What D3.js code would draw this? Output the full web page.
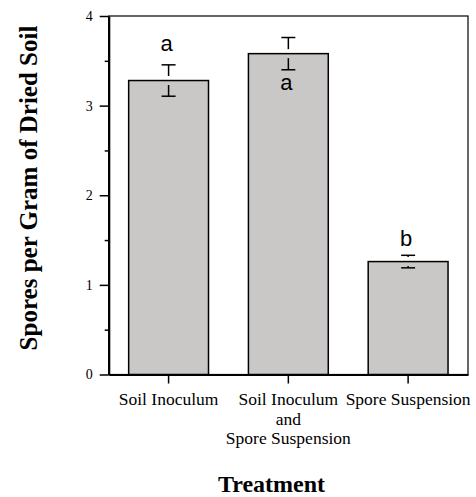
<!DOCTYPE html>
<html>
<head>
<meta charset="utf-8">
<script src="https://cdn.jsdelivr.net/npm/d3@7"></script>
<style>
  body { margin: 0; background: #fff; }
  svg { display: block; }
</style>
</head>
<body>
<div id="chart"></div>
<script>
// Data
const treatments = ["Soil Inoculum", "Soil Inoculum and Spore Suspension", "Spore Suspension"];
const tickLines = [["Soil Inoculum"], ["Soil Inoculum", "and", "Spore Suspension"], ["Spore Suspension"]];
const means = [3.28, 3.58, 1.26];
const errors = [0.175, 0.18, 0.07];
const letters = ["a", "a", "b"];
const letterValues = [3.61, 3.17, 1.43];
const yTicks = [0, 1, 2, 3, 4];
const yMinorTicks = [0.5, 1.5, 2.5, 3.5];

(function() {
    const W = 476, H = 497;
    const margin = {top: 16, right: 8, bottom: 122.5, left: 108.7};
    const width = W - margin.left - margin.right;
    const height = H - margin.top - margin.bottom;

    const svg = d3.select("#chart")
        .append("svg")
        .attr("width", W)
        .attr("height", H);

    const g = svg.append("g")
        .attr("transform", `translate(${margin.left}, ${margin.top})`);

    const x = d3.scaleBand()
        .domain(treatments)
        .range([0, width])
        .paddingInner(1 / 3)
        .paddingOuter(1 / 6);

    const y = d3.scaleLinear()
        .domain([0, 4])
        .range([height, 0]);

    // thin frame (top and right)
    g.append("rect")
        .attr("width", width)
        .attr("height", height)
        .attr("fill", "none")
        .attr("stroke", "#000")
        .attr("stroke-width", 1.2);

    // bars
    g.selectAll(".bar")
        .data(treatments)
        .enter()
        .append("rect")
        .attr("class", "bar")
        .attr("x", d => x(d))
        .attr("y", (d, i) => y(means[i]))
        .attr("width", x.bandwidth())
        .attr("height", (d, i) => height - y(means[i]))
        .attr("fill", "#c9c8c7")
        .attr("stroke", "#000")
        .attr("stroke-width", 1.5);

    // error bars, drawn with a small gap around the mean
    const gap = 4.5, capW = 14;
    treatments.forEach((t, i) => {
        const cx = x(t) + x.bandwidth() / 2;
        const yHi = y(means[i] + errors[i]);
        const yLo = y(means[i] - errors[i]);
        const yM = y(means[i]);
        const eb = g.append("g").attr("stroke", "#000").attr("stroke-width", 1.5);
        if (yM - gap > yHi) {
            eb.append("line").attr("x1", cx).attr("x2", cx).attr("y1", yHi).attr("y2", yM - gap);
        }
        if (yM + gap < yLo) {
            eb.append("line").attr("x1", cx).attr("x2", cx).attr("y1", yM + gap).attr("y2", yLo);
        }
        eb.append("line").attr("x1", cx - capW / 2).attr("x2", cx + capW / 2).attr("y1", yHi).attr("y2", yHi);
        eb.append("line").attr("x1", cx - capW / 2).attr("x2", cx + capW / 2).attr("y1", yLo).attr("y2", yLo);
    });

    // significance letters
    g.selectAll(".letter")
        .data(treatments)
        .enter()
        .append("text")
        .attr("class", "letter")
        .attr("x", d => x(d) + x.bandwidth() / 2 - 2)
        .attr("y", (d, i) => y(letterValues[i]))
        .attr("text-anchor", "middle")
        .style("font-family", "Liberation Sans, Arial, sans-serif")
        .style("font-size", "22px")
        .text((d, i) => letters[i]);

    // y axis
    const yAxis = g.append("g")
        .call(d3.axisLeft(y).tickValues(yTicks).tickSize(9).tickSizeOuter(0).tickPadding(7).tickFormat(d3.format("d")));
    yAxis.select(".domain").attr("stroke-width", 2.2);
    yAxis.selectAll(".tick line").attr("stroke-width", 1.5);
    yAxis.selectAll(".tick text")
        .style("font-family", "Liberation Serif, Times New Roman, serif")
        .style("font-size", "14px")
        .attr("fill", "#000");

    const yMinor = g.append("g")
        .call(d3.axisLeft(y).tickValues(yMinorTicks).tickSize(4).tickFormat(""));
    yMinor.select(".domain").remove();
    yMinor.selectAll(".tick line").attr("stroke-width", 1.5);

    // x axis
    const xAxis = g.append("g")
        .attr("transform", `translate(0, ${height})`)
        .call(d3.axisBottom(x).tickSize(9).tickSizeOuter(0).tickFormat(""));
    xAxis.select(".domain").attr("stroke-width", 2.2);
    xAxis.selectAll(".tick line").attr("stroke-width", 1.5);

    const xLabels = g.append("g")
        .attr("transform", `translate(0, ${height})`);
    treatments.forEach((t, i) => {
        const txt = xLabels.append("text")
            .attr("x", x(t) + x.bandwidth() / 2)
            .attr("y", 30.5)
            .attr("text-anchor", "middle")
            .style("font-family", "Liberation Serif, Times New Roman, serif")
            .style("font-size", "17.5px");
        tickLines[i].forEach((line, j) => {
            txt.append("tspan")
                .attr("x", x(t) + x.bandwidth() / 2)
                .attr("dy", j === 0 ? 0 : 19.5)
                .text(line);
        });
    });

    // axis titles
    svg.append("text")
        .attr("transform", `translate(37, 188) rotate(-90)`)
        .attr("text-anchor", "middle")
        .style("font-family", "Liberation Serif, Times New Roman, serif")
        .style("font-weight", "bold")
        .style("font-size", "25px")
        .text("Spores per Gram of Dried Soil");

    svg.append("text")
        .attr("x", 271.5)
        .attr("y", 492)
        .attr("text-anchor", "middle")
        .style("font-family", "Liberation Serif, Times New Roman, serif")
        .style("font-weight", "bold")
        .style("font-size", "24px")
        .text("Treatment");
})();
</script>
</body>
</html>
